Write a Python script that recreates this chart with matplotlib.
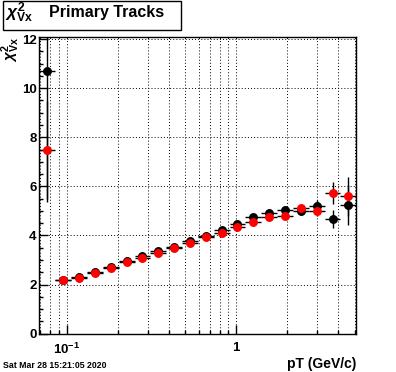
import numpy as np
import matplotlib
matplotlib.use("Agg")
import matplotlib.pyplot as plt
from matplotlib.ticker import LogLocator, FixedLocator, MultipleLocator, NullFormatter
from matplotlib.patches import Rectangle

plt.rcParams['font.family'] = ['Liberation Sans', 'DejaVu Sans']
plt.rcParams['font.weight'] = 'bold'
plt.rcParams['mathtext.fontset'] = 'custom'
plt.rcParams['mathtext.rm'] = 'Liberation Sans:bold'
plt.rcParams['mathtext.it'] = 'Liberation Sans:italic'
plt.rcParams['mathtext.bf'] = 'Liberation Sans:bold'

# pT bin edges (GeV/c)
pt_edges = [0.0693, 0.0859, 0.1065, 0.1320, 0.1637, 0.2029, 0.2515, 0.3118,
            0.3866, 0.4793, 0.5942, 0.7366, 0.9132, 1.132, 1.403, 1.740,
            2.157, 2.674, 3.315, 4.110, 5.095]

# chi2 Vx, black series
chi2_black = [10.70, 2.20, 2.29, 2.50, 2.73, 2.96, 3.16, 3.37, 3.55, 3.76,
              3.96, 4.22, 4.47, 4.75, 4.92, 5.04, 4.98, 5.21, 4.67, 5.24]
err_black = [5.32, 0.05, 0.05, 0.05, 0.05, 0.05, 0.05, 0.05, 0.05, 0.05,
             0.05, 0.06, 0.07, 0.08, 0.10, 0.12, 0.15, 0.25, 0.37, 0.80]

# chi2 Vx, red series
chi2_red = [7.47, 2.18, 2.27, 2.47, 2.68, 2.91, 3.08, 3.29, 3.49, 3.68,
            3.94, 4.11, 4.33, 4.54, 4.74, 4.78, 5.13, 4.98, 5.73, 5.60]
err_red = [2.0, 0.05, 0.05, 0.05, 0.05, 0.05, 0.05, 0.05, 0.05, 0.05,
           0.05, 0.06, 0.07, 0.08, 0.10, 0.12, 0.15, 0.20, 0.46, 0.80]

edges = np.array(pt_edges)
pt = np.sqrt(edges[:-1] * edges[1:])
xerr = [pt - edges[:-1], edges[1:] - pt]

fig = plt.figure(figsize=(3.96, 3.72), dpi=100)
ax = fig.add_axes([0.0997, 0.1030, 0.8, 0.7967])

ax.errorbar(pt, chi2_black, xerr=xerr, yerr=err_black, fmt='o', ms=5.4,
            color='black', ecolor='black', elinewidth=1, capsize=0, zorder=3)
ax.errorbar(pt, chi2_red, xerr=xerr, yerr=err_red, fmt='o', ms=5.4,
            mfc='red', mec='red', ecolor='black', elinewidth=1, capsize=0, zorder=4)

ax.set_xscale('log')
ax.set_xlim(pt_edges[0], pt_edges[-1])
ax.set_ylim(0, 12.07)

ax.xaxis.set_major_locator(FixedLocator([0.1, 1]))
ax.set_xticklabels([r'$\mathbf{10^{-1}}$', '1'])
ax.xaxis.set_minor_locator(LogLocator(base=10, subs=np.arange(2, 10), numticks=20))
ax.xaxis.set_minor_formatter(NullFormatter())
ax.yaxis.set_major_locator(MultipleLocator(2))
ax.yaxis.set_minor_locator(MultipleLocator(0.5))

ax.tick_params(which='both', direction='in', top=False, right=False, width=1)
ax.tick_params(which='major', length=6.2, labelsize=9.5)
ax.tick_params(axis='x', which='major', pad=6)
ax.tick_params(axis='y', which='major', pad=2)
ax.tick_params(which='minor', length=3)
for lab in ax.get_xticklabels() + ax.get_yticklabels():
    lab.set_fontweight('bold')

ax.grid(which='both', axis='x', color='black', linestyle=(0, (1, 2.2)), linewidth=0.7)
ax.grid(which='major', axis='y', color='black', linestyle=(0, (1, 2.2)), linewidth=0.7)
for s in ax.spines.values():
    s.set_linewidth(1)

# axis titles
fig.text(356.3 / 396, 1 - 368 / 372, 'pT (GeV/c)', ha='right', va='baseline',
         fontsize=10, fontweight='bold')
fig.text(11 / 396, 1 - 37 / 372, r'$\chi^{2}_{\mathbf{Vx}}$', rotation=90,
         ha='center', va='top', fontsize=11)

# title box
fig.patches.append(Rectangle((3.3 / 396, 1 - 30 / 372), 178 / 396, 29.3 / 372,
                             transform=fig.transFigure, facecolor='white',
                             edgecolor='black', linewidth=1))
fig.text(5 / 396, 1 - 18 / 372, r'$\chi^{2}_{\mathbf{Vx}}$', ha='left',
         va='baseline', fontsize=12.5)
fig.text(49 / 396, 1 - 16.7 / 372, 'Primary Tracks', ha='left', va='baseline',
         fontsize=11.5, fontweight='bold')

fig.text(3 / 396, 1 - 367.5 / 372, 'Sat Mar 28 15:21:05 2020', ha='left',
         va='baseline', fontsize=6.3, fontweight='bold')

fig.savefig('out.png', dpi=100)
